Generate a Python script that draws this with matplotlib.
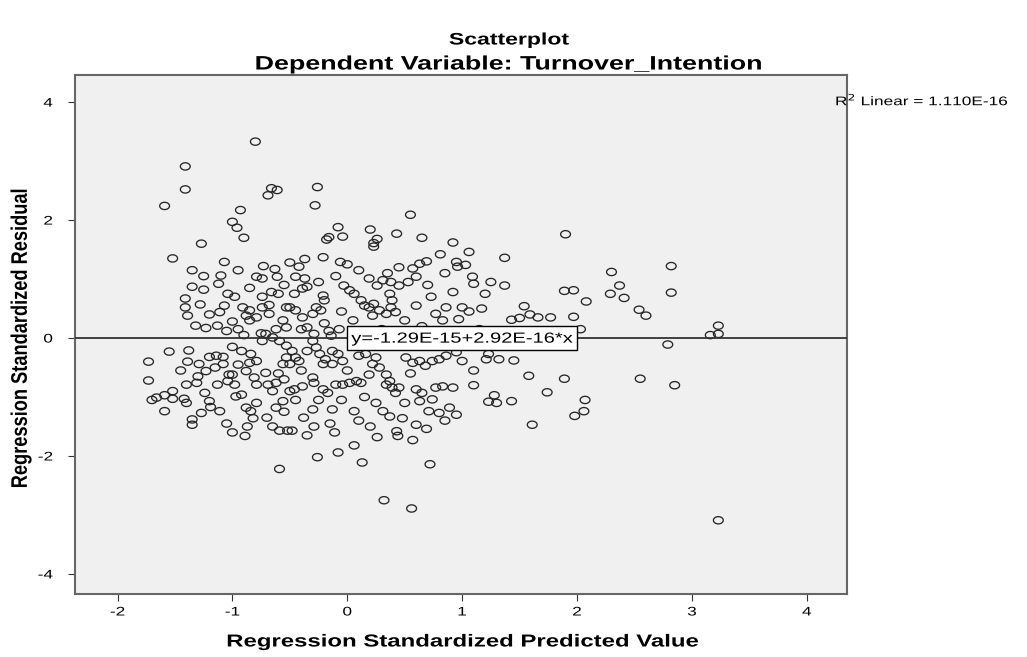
import matplotlib
matplotlib.use("Agg")
import matplotlib.pyplot as plt
from matplotlib.patheffects import AbstractPathEffect
from matplotlib.transforms import Affine2D
from matplotlib.path import Path
from matplotlib.patches import Rectangle
import numpy as np

plt.rcParams['font.family'] = ['Liberation Sans', 'DejaVu Sans']

title_main = "Scatterplot"
title_sub = "Dependent Variable: Turnover_Intention"
x_label = "Regression Standardized Predicted Value"
y_label = "Regression Standardized Residual"
fit_text = "y=-1.29E-15+2.92E-16*x"
r2_text = "R$^2$ Linear = 1.110E-16"
x_ticks = [-2, -1, 0, 1, 2, 3, 4]
y_ticks = [-4, -2, 0, 2, 4]
fit_intercept = -1.29e-15
fit_slope = 2.92e-16

pred = [
    -0.80, -1.41, -1.41, -1.59, -0.93, -0.66, -0.61, -0.69, -1.00, -0.96,
    -0.90, -1.27, -1.52, -1.07, -1.35, -0.73, -0.63, -0.50, -0.26, -0.28,
    0.55, -0.08, -0.16, -0.18, -0.04, 0.20, 0.43, 0.26, 0.23, 0.23,
    0.65, 0.92, 1.06, 0.81, -0.21, -0.37, -0.42, -0.06, 0.00, 0.63,
    0.69, 0.57, 0.95, 0.96, 1.03, 1.90, 1.37, 2.30, 2.82, 2.82,
    2.60, 3.23, 3.16, 3.23, 2.79, 2.85, 3.23, 0.32, 0.56, -0.26,
    -0.08, 0.06, 0.13, 0.26, -0.11, -0.35, -0.48, -0.29, 0.43, 0.44,
    0.57, 0.69, 0.72, 0.60, -0.59, -1.00, -0.89, -0.87, -0.59, -0.52,
    -1.35, 1.61, 1.37, 1.89, 1.97, 2.08, 2.29, 2.37, 2.41, 2.54,
    1.09, 1.10, 1.17, 1.06, 1.54, 1.59, 1.66, 1.77, 1.97, 1.43,
    1.50, 2.03, 1.23, 1.21, 1.32, 1.45, 1.58, 1.89, 2.55, 1.10,
    1.74, 1.28, 1.23, 1.43, 2.07, 2.06, 1.98,
    -1.35, -1.25, -1.41, -1.41, -1.28, -1.39, -1.32, -1.23, -1.13, -1.05,
    -1.00, -1.11, -1.07, -1.12, -1.10, -1.04, -0.98, -1.55, -1.38, -1.39,
    -1.73, -1.73, -1.66, -1.59, -1.52, -1.52, -1.59, -1.40, -1.31, -1.42,
    -1.40, -1.24, -1.20, -1.19, -1.27, -1.35, -1.11, -1.13, -1.29, -1.23,
    -1.20, -1.14, -1.08, -1.08, -1.03, -1.04, -1.00, -0.98, -0.91, -0.85,
    -0.79, -0.74, -0.68, -0.66, -0.74, -0.79, -0.74, -0.61, -0.92, -0.84,
    -0.79, -0.85, -0.88, -0.81, -0.79, -0.71, -0.69, -0.65, -0.62, -0.56,
    -0.53, -0.55, -0.97, -0.92, -0.88, -0.84, -0.82, -0.79, -0.62, -0.56,
    -0.75, -0.71, -0.65, -0.59, -0.53, -0.62, -0.53, -0.85, -0.88, -0.56,
    -0.53, -0.68, -0.74,
    -0.45, -0.37, -0.46, -0.39, -0.35, -0.21, -0.20, -0.27, -0.23, -0.03,
    0.02, 0.06, 0.12, 0.15, 0.19, 0.23, 0.28, 0.22, 0.19, 0.26,
    0.31, 0.38, 0.45, 0.53, 0.60, 0.37, 0.39, 0.38, 0.42, 0.34,
    0.73, 0.92, 0.86, 1.00, 0.77, 0.83, 0.97, -0.50, -0.45, -0.39,
    -0.35, -0.29, -0.30, -0.16, -0.14, -0.07, -0.48, -0.45, -0.42, -0.50,
    -0.35, -0.27, -0.24, -0.19, -0.21, -0.13, -0.08, -0.13, -0.04, 0.16,
    0.25, 0.22, 0.28, 0.51, 0.57, 0.63, 0.68, 0.74, 0.80, 0.86,
    0.95, 1.00, -0.30, -0.29, -0.21, -0.17, -0.10, -0.04, 0.02, 0.08,
    0.12, 0.19, 0.34, 0.37, 0.39, 0.42, 0.45, 0.34, 0.60, 0.65,
    0.63, 0.74, 0.77, 0.83, 0.92, 0.71, 0.80, 0.89, 0.95, -0.50,
    -0.46, -0.39, -0.30, -0.13, 0.06, 0.31, 0.37, 0.48,
    -0.45, -0.55, -0.38, -0.25, -0.05, 0.15, 0.25, 0.10, 0.50, 0.55,
    0.00, 0.10, -0.40, -0.60, -0.95, -1.00, -1.15, -1.30, -0.90, -0.95,
    -1.20, -0.60, -0.55, -0.25, -0.10, 0.10, 0.45, 0.35, 0.70, 0.85,
    1.20, 1.25, 0.60, 0.50, 0.65, 0.05, -0.05, 0.10, 0.30, 0.45,
    0.75, 0.90, 1.15, 1.30, -0.20, -0.40, -0.30, -0.85, -0.95, -1.25,
    -1.45, -1.70, -0.70, -0.65, -1.05, -0.15, 0.20, 0.85, 1.30, 1.10,
]

resid = [
    3.33, 2.91, 2.52, 2.24, 2.17, 2.54, 2.51, 2.42, 1.97, 1.87,
    1.70, 1.60, 1.35, 1.29, 1.15, 1.22, 1.17, 1.28, 2.56, 2.25,
    2.09, 1.88, 1.71, 1.67, 1.72, 1.84, 1.77, 1.68, 1.61, 1.55,
    1.70, 1.62, 1.46, 1.42, 1.37, 1.34, 1.21, 1.29, 1.25, 1.26,
    1.30, 1.18, 1.29, 1.21, 1.24, 1.76, 1.36, 1.12, 1.22, 0.77,
    0.38, 0.21, 0.05, 0.07, -0.11, -0.80, -3.09, -2.75, -2.89, -2.02,
    -1.94, -1.82, -2.11, -1.68, -1.60, -1.65, -1.57, -1.50, -1.58, -1.66,
    -1.73, -1.54, -2.14, -1.47, -2.22, -1.60, -1.66, -1.50, -1.57, -1.57,
    -1.47, -1.47, 0.89, 0.80, 0.81, 0.62, 0.75, 0.89, 0.68, 0.48,
    1.04, 0.92, 0.50, 0.45, 0.54, 0.40, 0.35, 0.35, 0.36, 0.31,
    0.34, 0.15, -0.27, -0.36, -0.36, -0.38, -0.64, -0.69, -0.69, -0.80,
    -0.92, -0.97, -1.08, -1.07, -1.05, -1.24, -1.32,
    0.87, 0.82, 0.67, 0.52, 0.57, 0.38, 0.21, 0.17, 0.21, 0.12,
    0.28, 0.44, 0.55, 0.92, 1.06, 0.75, 0.70, -0.23, -0.21, -0.40,
    -0.40, -0.72, -1.01, -0.97, -0.90, -1.03, -1.24, -0.79, -0.76, -1.03,
    -1.10, -0.93, -1.07, -1.17, -1.27, -1.38, -1.24, -0.79, -0.44, -0.56,
    -0.32, -0.30, -0.32, -0.44, -0.62, -0.73, -0.62, -0.79, 0.52, 0.47,
    0.35, 0.52, 0.41, 0.78, 0.70, 1.04, 1.01, 1.04, -0.22, -0.27,
    -0.39, -0.42, -0.56, -0.67, -0.79, -0.59, -0.79, -0.90, -0.76, -0.44,
    -0.33, -0.70, -0.99, -0.96, -1.18, -1.24, -1.36, -1.10, -1.18, -1.07,
    0.08, 0.07, 0.01, -0.05, -0.13, 0.15, 0.18, 0.30, 0.38, 0.30,
    0.52, 0.56, -0.05,
    1.04, 1.01, 0.75, 0.84, 0.87, 0.72, 0.64, 0.52, 0.47, 0.89,
    0.81, 0.75, 0.64, 0.55, 0.52, 0.58, 0.47, 0.38, 1.01, 0.89,
    0.98, 0.95, 0.89, 0.95, 1.04, 0.75, 0.64, 0.52, 0.44, 0.41,
    0.70, 0.78, 0.52, 0.52, 0.41, 0.30, 0.32, 0.52, 0.47, 0.35,
    0.18, 0.07, 0.41, 0.12, 0.04, 0.15, -0.22, -0.33, -0.39, -0.44,
    -0.22, -0.16, -0.27, -0.36, -0.44, -0.22, -0.27, -0.44, -0.39, -0.27,
    -0.33, -0.44, -0.50, -0.33, -0.42, -0.39, -0.47, -0.39, -0.36, -0.30,
    -0.24, -0.39, -0.67, -0.76, -0.87, -0.93, -0.79, -0.79, -0.76, -0.73,
    -0.76, -0.62, -0.62, -0.73, -0.84, -0.93, -0.84, -0.79, -0.87, -0.93,
    -1.07, -1.04, -0.84, -0.82, -0.84, -1.24, -1.27, -1.18, -1.30, -0.90,
    -0.87, -0.82, -1.21, -1.21, -1.24, -1.24, -1.33, -1.36,
    -1.05, -1.25, -1.35, -1.05, -1.05, -1.00, -1.10, -1.40, -1.10, -0.60,
    -0.55, -0.30, -0.55, -0.60, -0.45, -0.15, -0.50, -0.65, 0.05, 0.15,
    0.40, 0.75, 0.90, 0.95, 1.05, 1.15, 1.20, 1.10, 0.90, 1.10,
    0.75, 0.95, 0.55, 0.30, 0.20, 0.30, 0.45, 0.05, 0.15, 0.05,
    0.05, 0.10, 0.15, -0.10, 0.25, 0.15, -0.05, 0.85, 1.15, 1.05,
    -0.55, -1.05, -1.35, -1.50, -1.45, -1.45, -1.50, -1.40, -1.10, -0.55,
]


class Stretch(AbstractPathEffect):
    """Draw text glyphs stretched (the reference image is horizontally stretched)."""

    def __init__(self, sx=1.0, sy=1.0, anchor="center"):
        super().__init__()
        self.sx, self.sy, self.anchor = sx, sy, anchor

    def draw_path(self, renderer, gc, tpath, affine, rgbFace=None):
        ext = tpath.get_extents()
        if self.anchor == "center":
            cx = (ext.x0 + ext.x1) / 2
        elif self.anchor == "right":
            cx = ext.x1
        else:
            cx = 0.0
        cy = (ext.y0 + ext.y1) / 2
        pre = Affine2D().translate(-cx, -cy).scale(self.sx, self.sy).translate(cx, cy)
        renderer.draw_path(gc, tpath, pre + affine, rgbFace)


SX = 1.38

W, H = 1027, 657
top_px, bot_px, left_px, right_px = 75, 594, 75, 847
fig = plt.figure(figsize=(W / 100, H / 100), dpi=100)
fig.patch.set_facecolor("white")
ax = fig.add_axes([left_px / W, 1 - bot_px / H, (right_px - left_px) / W, (bot_px - top_px) / H])
ax.set_facecolor("#f0f0f0")

t = np.linspace(0, 2 * np.pi, 41)
ellipse_marker = Path(np.column_stack([np.cos(t), 0.74 * np.sin(t)]), closed=True)
ax.scatter(pred, resid, s=50, marker=ellipse_marker, facecolors="none",
           edgecolors="#262626", linewidths=0.95, zorder=3)

xlim = (-2.37, 4.35)
ax.set_xlim(*xlim)
ax.set_ylim(-4.34, 4.46)
ax.plot(list(xlim), [fit_intercept + fit_slope * xlim[0], fit_intercept + fit_slope * xlim[1]],
        color="#333333", lw=1.3, zorder=4)

ax.add_patch(Rectangle((0.0, -0.21), 2.0, 0.41, facecolor="white", edgecolor="black",
                       lw=1.0, zorder=5))
ax.text(0.035, -0.01, fit_text, fontsize=10.5, ha="left", va="center", zorder=6,
        path_effects=[Stretch(SX, 1.0, "left")])

ax.set_xticks(x_ticks)
ax.set_yticks(y_ticks)
ax.set_xticklabels([str(v) for v in x_ticks], fontsize=9)
ax.set_yticklabels([str(v) for v in y_ticks], fontsize=9)
ax.tick_params(axis="x", direction="out", length=5, width=0.8, color="#333333", pad=4)
ax.tick_params(axis="y", direction="out", length=5, width=0.8, color="#333333", pad=11)
for lbl in ax.get_xticklabels():
    lbl.set_path_effects([Stretch(SX, 1.0, "center")])
for lbl in ax.get_yticklabels():
    lbl.set_path_effects([Stretch(SX, 1.0, "right")])
for s in ax.spines.values():
    s.set_color("#666666")
    s.set_linewidth(1.5)

fig.text(463 / W, 1 - 642 / H, x_label, fontsize=12.5, fontweight="bold", ha="center",
         va="center", path_effects=[Stretch(SX, 1.0, "center")])
fig.text(21 / W, 1 - 338 / H, y_label, fontsize=12.5, fontweight="bold", ha="center",
         va="center", rotation=90, path_effects=[Stretch(1.05, 1.3, "center")])

fig.text(509 / W, 1 - 40 / H, title_main, fontsize=12, fontweight="bold", ha="center",
         va="center", path_effects=[Stretch(SX, 1.0, "center")])
fig.text(509 / W, 1 - 65 / H, title_sub, fontsize=14, fontweight="bold", ha="center",
         va="center", path_effects=[Stretch(SX, 1.0, "center")])
fig.text(835 / W, 1 - 100 / H, r2_text, fontsize=9, ha="left", va="center",
         path_effects=[Stretch(SX, 1.0, "left")])

fig.savefig("out.png", dpi=100)
